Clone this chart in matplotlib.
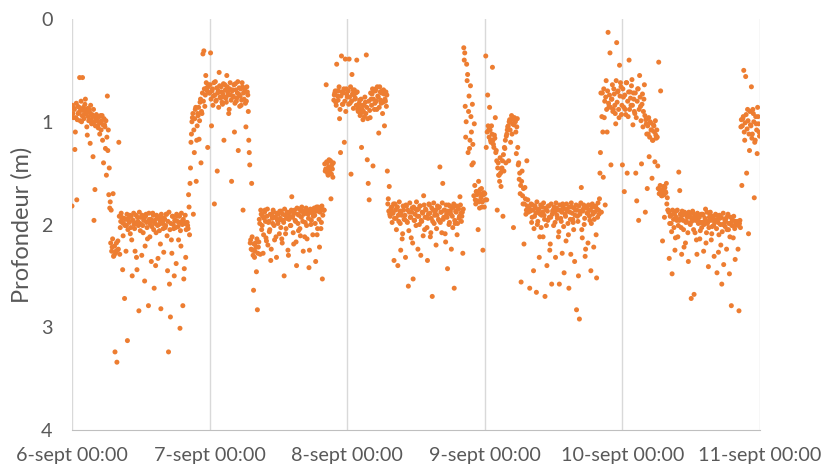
import numpy as np
import pandas as pd
import matplotlib
matplotlib.use("Agg")
import matplotlib.pyplot as plt

plt.rcParams['font.family'] = ['Lato', 'DejaVu Sans']

# depth readings (cm) on the full ten minutes, one list per day
depth_day1 = [
    182, 92, 87, 127, 96, 176, 85, 91, 57, 89, 100, 57,
    86, 93, 78, 89, 113, 95, 88, 121, 98, 93, 134, 196,
    166, 97, 95, 104, 100, 112, 94, 99, 118, 140, 103, 126,
    152, 75, 108, 145, 178, 186, 222, 170, 230, 324, 226, 334,
    216, 120, 229, 197, 193, 244, 199, 272, 195, 201, 313, 194,
    198, 209, 192, 250, 196, 200, 226, 191, 244, 197, 284, 199,
    193, 230, 201, 196, 255, 192, 198, 214, 279, 195, 200, 236,
    197, 191, 262, 199, 208, 194, 233, 200, 196, 282, 193, 198,
    227, 195, 201, 190, 245, 324, 258, 290, 215, 192, 200, 250,
    196, 238, 192, 202, 198, 301, 221, 197, 279, 253, 199, 232,
    198, 201, 171, 210, 145, 112, 96, 190, 130, 88, 158, 104,
    94, 117, 81, 140, 92, 34, 31, 85, 55, 67, 125, 64,
]
depth_day2 = [
    72, 33, 104, 68, 75, 180, 61, 79, 148, 70, 52, 76,
    66, 81, 73, 118, 64, 77, 55, 71, 92, 68, 74, 158,
    69, 76, 110, 63, 80, 72, 128, 67, 75, 84, 62, 186,
    78, 70, 105, 66, 74, 118, 142, 215, 160, 225, 264, 232,
    218, 246, 283, 222, 195, 229, 190, 201, 228, 194, 186, 213,
    192, 220, 197, 205, 235, 191, 199, 188, 215, 193, 232, 196,
    190, 209, 194, 187, 218, 196, 250, 191, 204, 189, 225, 195,
    188, 201, 173, 192, 219, 186, 197, 240, 190, 206, 185, 211,
    193, 187, 226, 189, 198, 184, 214, 190, 242, 186, 200, 188,
    210, 185, 191, 236, 183, 204, 187, 222, 184, 198, 253, 186,
    186, 148, 64, 140, 152, 137, 145, 175, 142, 154, 79, 72,
    81, 44, 75, 70, 97, 130, 36, 83, 72, 120, 39, 68,
]
depth_day3 = [
    76, 70, 39, 82, 151, 54, 69, 74, 78, 72, 40, 88,
    86, 79, 92, 125, 84, 90, 95, 81, 35, 137, 160, 176,
    96, 78, 73, 143, 70, 82, 68, 88, 75, 111, 66, 79,
    72, 92, 69, 104, 80, 85, 148, 175, 163, 192, 184, 198,
    189, 235, 180, 194, 183, 240, 197, 187, 225, 191, 209, 186,
    195, 232, 182, 198, 260, 188, 193, 213, 184, 253, 196, 190,
    201, 186, 224, 192, 182, 230, 197, 189, 172, 205, 185, 193,
    235, 190, 181, 212, 194, 270, 186, 199, 188, 220, 191, 184,
    196, 144, 188, 208, 160, 193, 186, 217, 190, 243, 181, 198,
    187, 224, 192, 183, 262, 199, 188, 210, 184, 194, 173, 189,
    192, 228, 28, 33, 115, 44, 54, 90, 126, 65, 110, 83,
    140, 102, 176, 168, 171, 205, 178, 166, 174, 183, 225, 169,
]
depth_day4 = [
    170, 36, 176, 74, 108, 86, 118, 104, 47, 122, 113, 96,
    128, 186, 140, 152, 135, 163, 145, 192, 148, 126, 140, 112,
    105, 138, 98, 120, 94, 102, 203, 96, 100, 131, 97, 142,
    156, 170, 256, 148, 180, 219, 164, 190, 138, 176, 186, 262,
    186, 198, 181, 245, 192, 184, 266, 200, 187, 232, 190, 203,
    183, 212, 191, 270, 185, 240, 196, 182, 225, 193, 258, 187,
    201, 188, 232, 184, 194, 212, 258, 186, 197, 228, 183, 247,
    190, 216, 185, 199, 262, 188, 229, 183, 195, 205, 236, 186,
    283, 192, 250, 292, 187, 164, 213, 185, 200, 231, 184, 189,
    218, 186, 196, 245, 183, 190, 222, 188, 182, 252, 193, 186,
    175, 130, 188, 72, 154, 96, 181, 60, 110, 13, 85, 33,
    142, 78, 90, 68, 84, 102, 23, 71, 88, 45, 62, 93,
]
depth_day5 = [
    142, 76, 168, 88, 62, 150, 95, 40, 71, 84, 59, 103,
    78, 92, 150, 177, 68, 196, 55, 85, 141, 73, 90, 64,
    188, 102, 165, 112, 134, 100, 108, 155, 118, 104, 139, 113,
    108, 143, 42, 166, 70, 172, 216, 163, 193, 168, 160, 174,
    186, 233, 192, 199, 248, 190, 203, 225, 187, 196, 212, 149,
    167, 194, 229, 191, 205, 188, 218, 197, 193, 236, 190, 200,
    272, 195, 189, 268, 208, 193, 229, 196, 191, 214, 198, 203,
    190, 226, 197, 185, 208, 199, 241, 193, 188, 215, 202, 194,
    231, 196, 191, 247, 198, 210, 194, 220, 258, 200, 239, 195,
    197, 224, 192, 205, 248, 199, 279, 196, 213, 201, 234, 198,
    200, 224, 284, 196, 105, 162, 97, 50, 118, 56, 150, 88,
    209, 128, 103, 66, 112, 92, 174, 118, 102, 131, 95, 110,
]

# readings taken five minutes later (cm)
depth_day1_b = [
    84, 96, 88, 110, 82, 98, 92, 86, 99, 80, 94, 89,
    97, 83, 92, 105, 87, 99, 91, 84, 102, 95, 88, 100,
    104, 93, 99, 106, 95, 101, 108, 94, 103, 97, 105, 99,
    115, 128, 171, 184, 218, 226, 214, 231, 221, 228, 218, 225,
    224, 192, 203, 189, 198, 211, 194, 201, 226, 190, 205, 197,
    191, 203, 215, 196, 189, 204, 199, 232, 193, 201, 188, 206,
    200, 191, 208, 194, 221, 190, 203, 197, 189, 212, 195, 202,
    189, 205, 196, 240, 191, 201, 193, 206, 219, 190, 199, 204,
    194, 203, 190, 211, 197, 188, 205, 199, 228, 192, 204, 196,
    203, 190, 197, 215, 192, 206, 189, 200, 195, 243, 191, 205,
    198, 204, 183, 160, 120, 100, 92, 108, 97, 86, 118, 92,
    86, 99, 78, 90, 72, 80, 68, 74, 62, 70, 66, 72,
]
depth_day2_b = [
    64, 78, 70, 84, 62, 74, 80, 67, 72, 86, 65, 77,
    71, 83, 63, 76, 69, 81, 66, 74, 88, 62, 79, 70,
    75, 64, 82, 69, 77, 61, 73, 85, 68, 79, 66, 72,
    68, 82, 80, 71, 90, 130, 218, 224, 212, 230, 219, 226,
    222, 214, 228, 217, 199, 186, 205, 192, 210, 188, 197, 216,
    185, 198, 207, 190, 224, 194, 186, 201, 193, 212, 189, 199,
    196, 187, 203, 214, 190, 198, 185, 209, 194, 188, 230, 192,
    201, 186, 193, 208, 189, 196, 217, 184, 199, 191, 204, 187,
    183, 197, 190, 212, 186, 201, 188, 194, 225, 185, 196, 189,
    192, 184, 199, 187, 210, 183, 195, 188, 204, 182, 191, 186,
    141, 146, 139, 150, 144, 148, 138, 151, 146, 140, 74, 70,
    84, 70, 79, 66, 88, 75, 71, 83, 68, 80, 90, 73,
]
depth_day3_b = [
    70, 83, 76, 66, 80, 73, 87, 69, 77, 84, 71, 90,
    82, 94, 78, 88, 98, 84, 76, 92, 86, 97, 80, 89,
    72, 84, 68, 78, 88, 70, 80, 66, 76, 86, 71, 82,
    70, 81, 73, 78, 71, 74, 180, 187, 190, 186, 183, 189,
    180, 194, 186, 205, 183, 191, 178, 199, 187, 214, 182, 195,
    191, 181, 197, 186, 206, 179, 193, 188, 218, 183, 196, 185,
    178, 192, 185, 200, 182, 196, 188, 211, 181, 193, 186, 203,
    194, 180, 189, 208, 184, 197, 179, 191, 186, 204, 182, 195,
    183, 198, 188, 179, 195, 186, 209, 181, 193, 187, 200, 182,
    190, 184, 203, 180, 196, 187, 182, 199, 185, 192, 181, 197,
    188, 185, 40, 85, 100, 60, 130, 75, 118, 95, 142, 122,
    172, 162, 180, 168, 177, 158, 184, 170, 165, 178, 171, 183,
]
depth_day4_b = [
    176, 125, 110, 104, 115, 108, 120, 112, 118, 125, 116, 130,
    138, 145, 152, 158, 150, 146, 138, 132, 125, 118, 114, 108,
    104, 100, 108, 98, 112, 96, 103, 99, 110, 105, 125, 140,
    150, 162, 158, 172, 165, 180, 175, 186, 182, 188, 184, 187,
    180, 193, 186, 204, 182, 189, 178, 197, 185, 212, 181, 191,
    188, 179, 195, 184, 201, 187, 182, 193, 219, 180, 190, 186,
    183, 198, 179, 191, 186, 207, 181, 194, 188, 180, 202, 185,
    192, 180, 187, 210, 183, 195, 179, 189, 198, 184, 191, 181,
    186, 197, 182, 190, 179, 205, 187, 181, 194, 224, 183, 189,
    181, 192, 186, 199, 180, 188, 195, 183, 210, 185, 179, 190,
    150, 72, 95, 110, 68, 80, 76, 88, 70, 82, 74, 86,
    78, 64, 88, 73, 92, 60, 81, 70, 96, 75, 66, 84,
]
depth_day5_b = [
    68, 86, 74, 93, 62, 80, 71, 88, 77, 65, 84, 72,
    90, 72, 96, 80, 68, 88, 76, 99, 83, 105, 78, 94,
    98, 112, 104, 96, 115, 101, 108, 118, 103, 110, 99, 116,
    115, 165, 170, 162, 168, 172, 166, 171, 164, 169, 180, 186,
    188, 199, 191, 207, 186, 195, 190, 213, 193, 186, 201, 196,
    190, 203, 187, 196, 222, 189, 198, 192, 208, 188, 199, 193,
    197, 187, 205, 192, 196, 215, 189, 199, 193, 206, 190, 198,
    191, 200, 194, 218, 188, 197, 203, 190, 196, 209, 192, 201,
    198, 190, 204, 195, 227, 191, 200, 193, 207, 189, 199, 202,
    194, 205, 190, 199, 212, 193, 201, 196, 192, 204, 197, 200,
    197, 201, 199, 203, 98, 104, 95, 110, 101, 93, 107, 99,
    112, 90, 104, 116, 88, 100, 120, 95, 108, 86, 102, 114,
]

day_ticks = ['2023-09-06', '2023-09-07', '2023-09-08', '2023-09-09', '2023-09-10', '2023-09-11']
day_labels = ['6-sept 00:00', '7-sept 00:00', '8-sept 00:00', '9-sept 00:00', '10-sept 00:00', '11-sept 00:00']

depth_a = np.array(depth_day1 + depth_day2 + depth_day3 + depth_day4 + depth_day5)
depth_b = np.array(depth_day1_b + depth_day2_b + depth_day3_b + depth_day4_b + depth_day5_b)
depth = np.column_stack([depth_a, depth_b]).ravel() / 100
times = pd.date_range('2023-09-06 00:00', periods=len(depth), freq='5min')

fig = plt.figure(figsize=(8.25, 4.7), dpi=100)
ax = fig.add_axes([72 / 825, 1 - 430 / 470, (760 - 72) / 825, (430 - 19) / 470])

ax.scatter(times, depth, s=13, color='#ED7D31', edgecolors='none', zorder=3)

ticks = pd.to_datetime(day_ticks)
ax.set_xlim(ticks[0], ticks[-1])
ax.set_xticks(ticks)
ax.set_xticklabels(day_labels)
ax.set_ylim(4, 0)
ax.set_yticks([0, 1, 2, 3, 4])

ax.grid(axis='x', color='#D9D9D9', linewidth=1, zorder=0)
for s in ['top', 'right', 'left']:
    ax.spines[s].set_visible(False)
ax.spines['bottom'].set_color('#BFBFBF')
ax.tick_params(length=0, labelsize=14.2, colors='#595959')
ax.tick_params(axis='x', pad=12)
ax.tick_params(axis='y', pad=14)
ax.set_ylabel('Profondeur (m)', fontsize=17, color='#595959')
ax.yaxis.set_label_coords(-0.057, 0.5)

fig.savefig('out.png', dpi=100)
